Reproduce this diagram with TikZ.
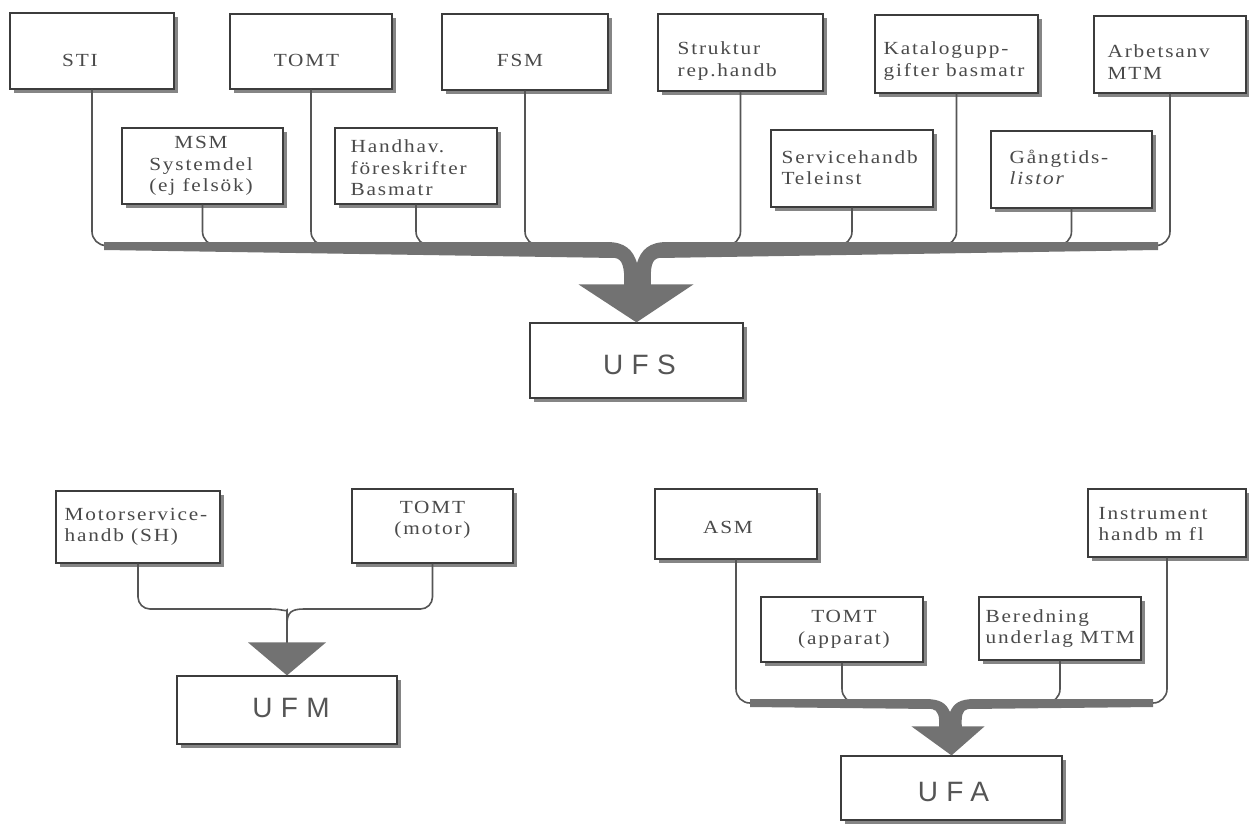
\documentclass[tikz,border=0pt]{standalone}
\usepackage{fontspec}
\setmainfont{Liberation Serif}[FakeStretch=1.15,LetterSpace=10]
\newfontfamily\uffont{Liberation Sans}[LetterSpace=30]
\usetikzlibrary{shadows,calc}
\definecolor{txtc}{HTML}{4A4A4A}
\definecolor{boxc}{HTML}{3C3C3C}
\definecolor{shadc}{HTML}{858585}
\definecolor{linec}{HTML}{555555}
\definecolor{busc}{HTML}{727272}
\definecolor{ufc}{HTML}{555555}
\begin{document}
\begin{tikzpicture}[x=1pt,y=-1pt,
  box/.style={draw=boxc, line width=1.2pt, fill=white, inner sep=0pt,
    drop shadow={shadow xshift=3.5pt, shadow yshift=-4pt, fill=shadc, opacity=1}},
  size/.style 2 args={minimum width=#1pt, minimum height=#2pt},
  txt/.style={text=txtc, font=\fontsize{18.5}{21.5}\selectfont, inner sep=0pt},
  conn/.style={draw=linec, line width=1.6pt, rounded corners=14pt},
  busfill/.style={fill=busc},
  uf/.style={text=ufc, font=\uffont\fontsize{28}{30}\selectfont, inner sep=0pt}]
\useasboundingbox (0,0) rectangle (1249,824);

% ---------------- UFS group ----------------
\node[box, size={164}{76}] (sti)  at (92,51) {};
\node[box, size={162}{75}] (tomt) at (311,51.5) {};
\node[box, size={166}{76}] (fsm)  at (525,52) {};
\node[box, size={165}{77}] (str)  at (740.5,52.5) {};
\node[box, size={163}{78}] (kat)  at (956.5,54) {};
\node[box, size={152}{77}] (arb)  at (1170,54.5) {};
\node[box, size={161}{76}] (msm)  at (202.5,166) {};
\node[box, size={162}{76}] (hand) at (416,166) {};
\node[box, size={162}{77}] (serv) at (852,168.5) {};
\node[box, size={161}{77}] (gang) at (1071.5,169.5) {};
\node[box, size={213}{75}] (ufs)  at (636.5,360.5) {};

\node[txt] (stiT)  at ([shift={(-12,9)}]sti.center) {STI};
\node[txt] (tomtT) at ([shift={(-4.5,8.5)}]tomt.center) {TOMT};
\node[txt] (fsmT)  at ([shift={(-5,8)}]fsm.center) {FSM};
\node[txt, anchor=west, align=left] (strT) at ([shift={(20,8.5)}]str.west) {Struktur\\rep.handb};
\node[txt, anchor=west, align=left] (katT) at ([shift={(9,7)}]kat.west) {Katalogupp-\\gifter basmatr};
\node[txt, anchor=west, align=left] (arbT) at ([shift={(14,7.5)}]arb.west) {Arbetsanv\\MTM};
\node[txt, align=center] (msmT) at ([shift={(-1.5,0)}]msm.center) {MSM\\Systemdel\\(ej felsök)};
\node[txt, anchor=west, align=left] (handT) at ([shift={(16,2)}]hand.west) {Handhav.\\föreskrifter\\Basmatr};
\node[txt, anchor=west, align=left] (servT) at ([shift={(11,-1)}]serv.west) {Servicehandb\\Teleinst};
\node[txt, anchor=west, align=left] (gangT) at ([shift={(19,-2)}]gang.west) {Gångtids-\\\textit{listor}};
\node[uf] (ufsT) at ([shift={(3,4)}]ufs.center) {UFS};

\coordinate (busL) at (608,245.5);
\coordinate (busR) at (668,245.5);
\foreach \n in {sti,msm,tomt,hand,fsm}{\draw[conn] (\n.south) |- (busL);}
\foreach \n in {str,serv,kat,gang,arb}{\draw[conn] (\n.south) |- (busR);}
\fill[busfill] (104,242) -- (607,242)
  .. controls (625,242) and (633,250) .. (637,263)
  .. controls (641,250) and (649,242) .. (667,242)
  -- (1158,242) -- (1158,250) -- (659,258)
  .. controls (652,259) and (650,266) .. (651,286)
  -- (624,286) .. controls (625,266) and (622,259) .. (615,258)
  -- (104,250) -- cycle;
\fill[busfill] ([shift={(-58,-38)}]ufs.north) -- ([shift={(57,-38)}]ufs.north) -- (ufs.north) -- cycle;

% ---------------- UFM group ----------------
\node[box, size={164}{72}] (mot)  at (138,527) {};
\node[box, size={161}{74}] (tmot) at (432.5,526) {};
\node[box, size={220}{68}] (ufm)  at (287,710) {};
\node[txt, anchor=west, align=left] (motT) at ([shift={(9,0)}]mot.west) {Motorservice-\\handb (SH)};
\node[txt, align=center] (tmotT) at ([shift={(0,-6)}]tmot.center) {TOMT\\(motor)};
\node[uf] (ufmT) at ([shift={(4,-2)}]ufm.center) {UFM};

\coordinate (ufmL) at (270,609);
\coordinate (ufmR) at (304,609);
\coordinate (ufmS) at (287,646);
\draw[conn, rounded corners=12pt] (mot.south) |- (ufmL);
\draw[conn, rounded corners=12pt] (tmot.south) |- (ufmR);
\draw[conn] (ufmL) .. controls (282,609) and (287,612) .. (287,624) -- (ufmS);
\draw[conn] (ufmR) .. controls (292,609) and (287,612) .. (287,624);
\fill[busfill] ([shift={(-39,-33)}]ufm.north) -- ([shift={(39,-33)}]ufm.north) -- (ufm.north) -- cycle;

% ---------------- UFA group ----------------
\node[box, size={162}{70}] (asm)  at (736,524) {};
\node[box, size={158}{68}] (inst) at (1167,523) {};
\node[box, size={162}{65}] (tapp) at (842,629.5) {};
\node[box, size={162}{63}] (ber)  at (1060,628.5) {};
\node[box, size={221}{64}] (ufa)  at (951.5,788) {};
\node[txt] (asmT) at ([shift={(-8,3)}]asm.center) {ASM};
\node[txt, anchor=west, align=left] (instT) at ([shift={(11,1)}]inst.west) {Instrument\\handb m fl};
\node[txt, align=center] (tappT) at ([shift={(2,0)}]tapp.center) {TOMT\\(apparat)};
\node[txt, anchor=west, align=left] (berT) at ([shift={(7,0)}]ber.west) {Beredning\\underlag MTM};
\node[uf] (ufaT) at ([shift={(2,4)}]ufa.center) {UFA};

\coordinate (ufaL) at (925,703);
\coordinate (ufaR) at (977,703);
\foreach \n in {asm,tapp}{\draw[conn] (\n.south) |- (ufaL);}
\foreach \n in {ber,inst}{\draw[conn] (\n.south) |- (ufaR);}
\fill[busfill] (750,699) -- (925,699)
  .. controls (940,699) and (946,703) .. (950,712)
  .. controls (954,703) and (960,699) .. (975,699)
  -- (1153,699) -- (1153,707) -- (968,709)
  .. controls (962,710) and (961,716) .. (962,729)
  -- (939,729) .. controls (940,716) and (938,710) .. (932,709)
  -- (750,707) -- cycle;
\fill[busfill] ([shift={(-40,-29)}]ufa.north) -- ([shift={(33,-29)}]ufa.north) -- (ufa.north) -- cycle;
\end{tikzpicture}
\end{document}
